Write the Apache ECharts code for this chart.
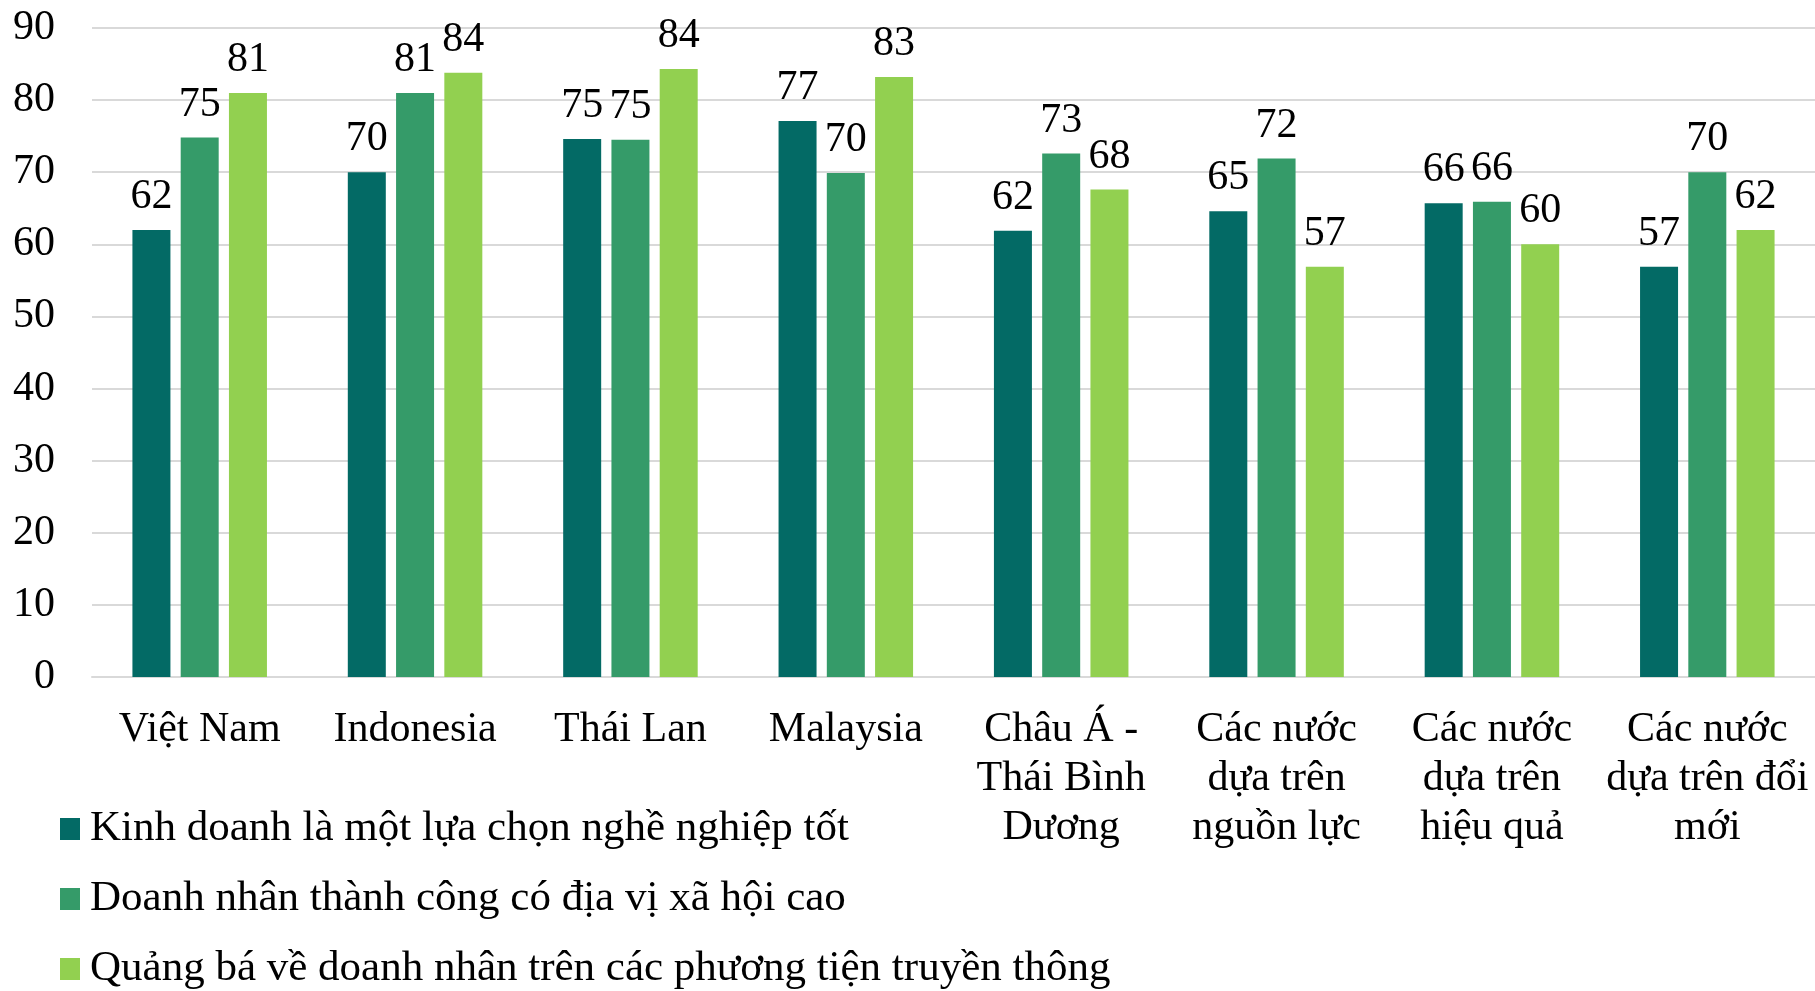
<!DOCTYPE html>
<html>
<head>
<meta charset="utf-8">
<script src="https://cdn.jsdelivr.net/npm/echarts@6/dist/echarts.min.js"></script>
<style>
html,body{margin:0;padding:0;background:#fff;}
#chart{width:1815px;height:991px;}
</style>
</head>
<body>
<div id="chart"></div>
<script>
const categories = ["Việt Nam", "Indonesia", "Thái Lan", "Malaysia", "Châu Á - Thái Bình Dương", "Các nước dựa trên nguồn lực", "Các nước dựa trên hiệu quả", "Các nước dựa trên đổi mới"];
const seriesNames = ["Kinh doanh là một lựa chọn nghề nghiệp tốt", "Doanh nhân thành công có địa vị xã hội cao", "Quảng bá về doanh nhân trên các phương tiện truyền thông"];
const careerChoice = [62.0, 70.0, 74.6, 77.1, 61.9, 64.6, 65.7, 56.9];
const highStatus = [74.8, 81.0, 74.5, 69.9, 72.6, 71.9, 65.9, 70.0];
const mediaAttention = [81.0, 83.8, 84.3, 83.2, 67.6, 56.9, 60.0, 62.0];
const yTicks = [0, 10, 20, 30, 40, 50, 60, 70, 80, 90];

const colors = ["#036a65", "#359b69", "#92d050"];
const FONT = "'Liberation Serif', 'Times New Roman', serif";

// wrap category names into lines no wider than maxWidth (measured with canvas)
const measureCtx = document.createElement('canvas').getContext('2d');
measureCtx.font = "42px 'Liberation Serif'";
function wrapLabel(text, maxWidth) {
  const words = text.split(' ');
  const lines = [];
  let cur = '';
  words.forEach(w => {
    const test = cur ? cur + ' ' + w : w;
    if (cur && measureCtx.measureText(test).width > maxWidth) {
      lines.push(cur);
      cur = w;
    } else {
      cur = test;
    }
  });
  if (cur) lines.push(cur);
  return lines.join('\n');
}

const chart = echarts.init(document.getElementById('chart'), null, {renderer: 'canvas'});
const dataSets = [careerChoice, highStatus, mediaAttention];

chart.setOption({
  animation: false,
  backgroundColor: '#ffffff',
  grid: {left: 92, right: 0, top: 28, bottom: 314, containLabel: false},
  legend: {
    orient: 'vertical',
    left: 60,
    top: 807,
    height: 190,
    padding: 0,
    itemWidth: 20,
    itemHeight: 22,
    itemGap: 26,
    icon: 'rect',
    data: seriesNames,
    textStyle: {fontFamily: FONT, fontSize: 43, lineHeight: 44, color: '#000', padding: [0, 0, 0, 5]}
  },
  xAxis: {
    type: 'category',
    data: categories,
    axisTick: {show: false},
    axisLine: {lineStyle: {color: '#d9d9d9', width: 2}},
    axisLabel: {
      interval: 0,
      fontFamily: FONT,
      fontSize: 42,
      color: '#000',
      lineHeight: 49,
      margin: 28,
      align: 'center',
      formatter: v => wrapLabel(v, 212)
    }
  },
  yAxis: {
    type: 'value',
    min: yTicks[0],
    max: yTicks[yTicks.length - 1],
    interval: 10,
    axisLine: {show: false},
    axisTick: {show: false},
    splitLine: {lineStyle: {color: '#d9d9d9', width: 2}},
    axisLabel: {fontFamily: FONT, fontSize: 42, color: '#000', margin: 37}
  },
  series: seriesNames.map((name, i) => ({
    name: name,
    type: 'bar',
    data: dataSets[i],
    barWidth: 38,
    barGap: '27%',
    itemStyle: {color: colors[i]},
    label: {
      show: true,
      position: 'top',
      distance: 12,
      fontFamily: FONT,
      fontSize: 42,
      color: '#000',
      formatter: p => Math.round(p.value).toString()
    }
  }))
});
</script>
</body>
</html>
